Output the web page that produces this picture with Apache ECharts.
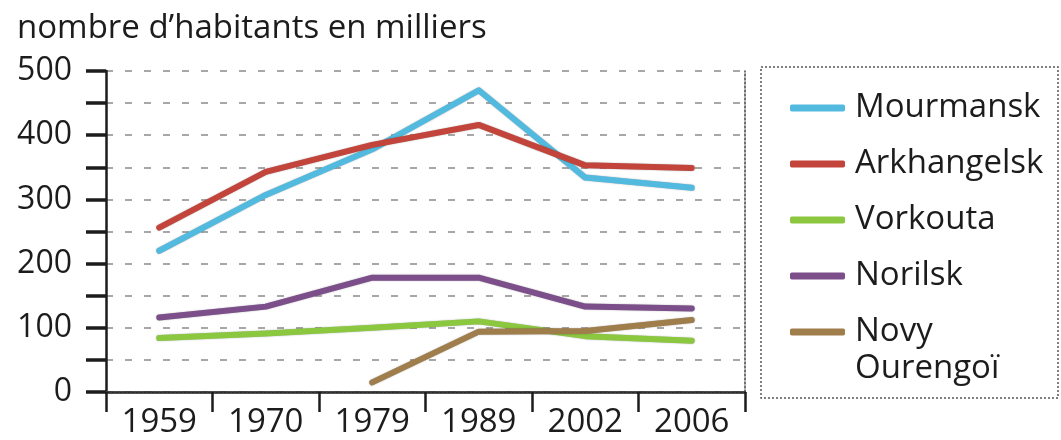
<!DOCTYPE html>
<html>
<head>
<meta charset="utf-8">
<script src="https://cdn.jsdelivr.net/npm/echarts@6/dist/echarts.min.js"></script>
<style>
  html, body { margin: 0; padding: 0; background: #fff; }
  #chart { width: 1061px; height: 440px; }
</style>
</head>
<body>
<div id="chart"></div>
<script>
  // années (catégories)
  const years = ["1959", "1970", "1979", "1989", "2002", "2006"];
  // habitants en milliers
  const mourmansk = [220, 307, 378, 470, 334, 318];
  const arkhangelsk = [256, 343, 385, 416, 353, 349];
  const vorkouta = [84, 91, 100, 110, 87, 80];
  const norilsk = [116, 133, 178, 178, 133, 130];
  const novyOurengoi = [null, null, 15, 94, 95, 112];
  const yTicks = [0, 100, 200, 300, 400, 500];

  const font = "Open Sans";
  const ink = "#1c1c1c";

  const chart = echarts.init(document.getElementById("chart"));

  function line(name, data, color) {
    return {
      name: name,
      type: "line",
      data: data,
      xAxisIndex: 0,
      yAxisIndex: 0,
      showSymbol: false,
      symbol: "none",
      connectNulls: false,
      color: color,
      lineStyle: {
        width: 6,
        color: color,
        cap: "round",
        join: "round",
        shadowColor: "rgba(0,0,0,0.35)",
        shadowBlur: 1.5
      }
    };
  }

  const option = {
    animation: false,
    title: {
      text: "nombre d\u2019habitants en milliers",
      left: 17,
      top: 12,
      padding: 0,
      textStyle: { fontFamily: font, fontSize: 33, fontWeight: "normal", color: ink }
    },
    grid: { left: 106, right: 316, top: 71, bottom: 48 },
    legend: {
      orient: "vertical",
      left: 785,
      top: 83,
      itemWidth: 55,
      itemHeight: 7,
      itemGap: 16,
      icon: "roundRect",
      data: ["Mourmansk", "Arkhangelsk", "Vorkouta", "Norilsk", "Novy Ourengoï"],
      formatter: function (n) { return n === "Novy Ourengoï" ? "Novy" : n; },
      textStyle: { fontFamily: font, fontSize: 33, color: ink, lineHeight: 40, padding: [0, 0, 0, 5] }
    },
    graphic: [
      {
        type: "rect",
        shape: { x: 761, y: 67, width: 297, height: 331 },
        style: { fill: "none", stroke: "#555", lineWidth: 1.5, lineDash: [2, 2] }
      },
      {
        type: "text",
        x: 855,
        y: 369,
        style: {
          text: "Ourengoï",
          font: "33px 'Open Sans'",
          fill: ink,
          verticalAlign: "middle"
        }
      }
    ],
    xAxis: [
      {
        type: "category",
        data: years,
        boundaryGap: true,
        axisLine: { lineStyle: { color: ink, width: 2.5 } },
        axisTick: { show: true, length: 20, lineStyle: { color: ink, width: 2.5 } },
        axisLabel: { fontFamily: font, fontSize: 33, color: ink, margin: 14 },
        splitLine: { show: false }
      },
      {
        type: "category",
        data: years,
        position: "top",
        axisLine: { lineStyle: { color: "#444", width: 1.5, type: [2, 2] } },
        axisTick: { show: false },
        axisLabel: { show: false },
        splitLine: { show: false }
      }
    ],
    yAxis: [
      {
        type: "value",
        min: 0,
        max: 500,
        interval: 50,
        axisLine: { show: true, lineStyle: { color: ink, width: 2.5 } },
        axisTick: { show: true, length: 20, lineStyle: { color: ink, width: 3.5 } },
        axisLabel: {
          fontFamily: font,
          fontSize: 32,
          color: ink,
          margin: 34,
          formatter: function (v) { return yTicks.indexOf(v) >= 0 ? String(v) : ""; }
        },
        splitLine: { show: true, lineStyle: { color: "#8a8a8a", width: 1.5, type: [7, 12] } }
      },
      {
        type: "value",
        min: 0,
        max: 500,
        position: "right",
        axisLine: { show: true, lineStyle: { color: "#444", width: 1.5, type: [2, 2] } },
        axisTick: { show: false },
        axisLabel: { show: false },
        splitLine: { show: false }
      }
    ],
    series: [
      line("Mourmansk", mourmansk, "#52bade"),
      line("Arkhangelsk", arkhangelsk, "#c2443b"),
      line("Vorkouta", vorkouta, "#8cc740"),
      line("Norilsk", norilsk, "#7c4f8b"),
      line("Novy Ourengoï", novyOurengoi, "#a07e4c")
    ]
  };

  chart.setOption(option);
</script>
</body>
</html>
